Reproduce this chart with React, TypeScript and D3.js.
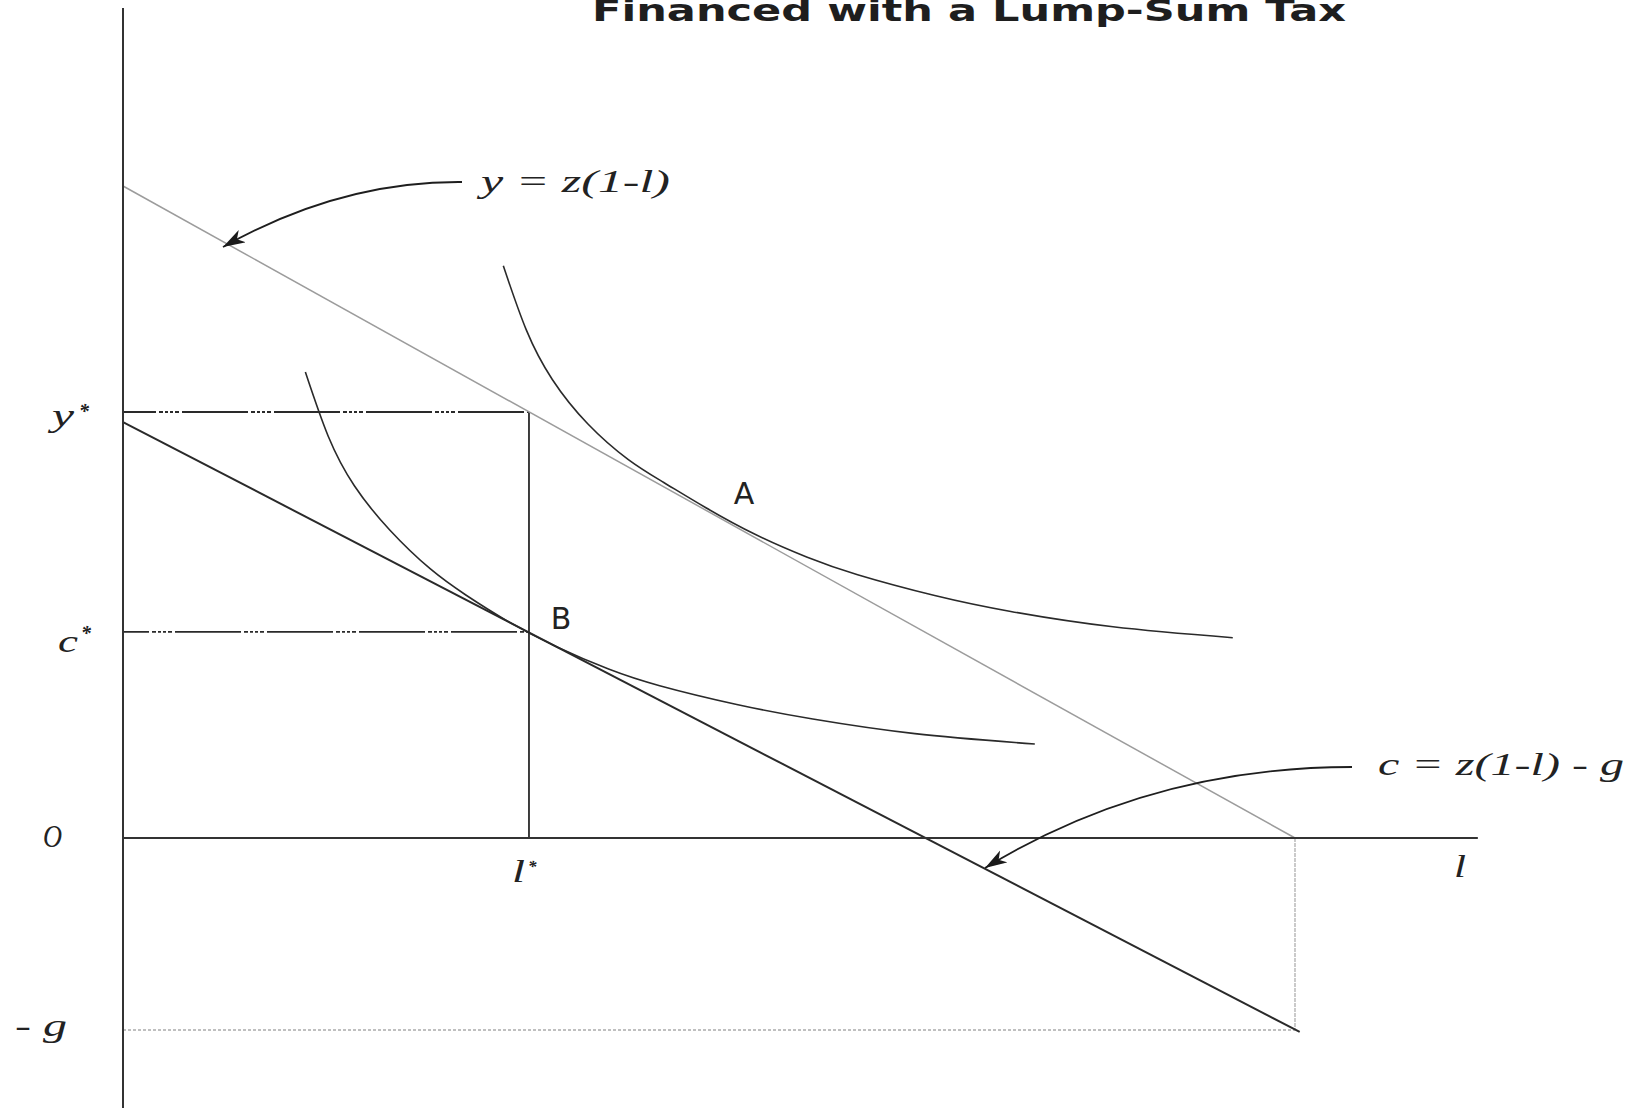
import React from "react";
import * as d3 from "d3";

const W = 1634;
const H = 1108;

// Diagram coordinates: leisure l on the horizontal axis, goods on the vertical axis.
const leisureDomain: [number, number] = [0, 1];
const goodsDomain: [number, number] = [0, 1];

// y = z(1-l)
const productionFrontier: [number, number][] = [
  [0, 1],
  [1, 0],
];
// c = z(1-l) - g
const budgetLine: [number, number][] = [
  [0, 0.638],
  [1.004, -0.2975],
];

// Higher indifference curve, tangent to the frontier at A
const indifferenceA: [number, number][] = [
  [0.3245, 0.8777],
  [0.3441, 0.7793],
  [0.3663, 0.7033],
  [0.3965, 0.6354],
  [0.4312, 0.5804],
  [0.4614, 0.5453],
  [0.497, 0.5069],
  [0.5397, 0.4654],
  [0.5833, 0.431],
  [0.6268, 0.4038],
  [0.6926, 0.3719],
  [0.7575, 0.3474],
  [0.8447, 0.3239],
  [0.9469, 0.3071],
];

// Lower indifference curve, tangent to the budget line at B
const indifferenceB: [number, number][] = [
  [0.1556, 0.7147],
  [0.1751, 0.6162],
  [0.1974, 0.5403],
  [0.2276, 0.4724],
  [0.2623, 0.4126],
  [0.2925, 0.3727],
  [0.3281, 0.3327],
  [0.3708, 0.2927],
  [0.4143, 0.2592],
  [0.4579, 0.2336],
  [0.5237, 0.2048],
  [0.5886, 0.1825],
  [0.6757, 0.1601],
  [0.778, 0.1441],
];

const lStar = 0.3464;
const yStar = 0.6534;
const cStar = 0.316;
const gTax = 0.2945;
const leisureMax = 1;
const axisTop = 1.273;
const axisBottom = -0.414;
const axisRight = 1.156;

const titleText = "Financed with a Lump-Sum Tax";
const frontierLabel = "y = z(1-l)";
const budgetLabel = "c = z(1-l) - g";

export default function App() {
  const x = d3.scaleLinear().domain(leisureDomain).range([123, 1295]);
  const y = d3.scaleLinear().domain(goodsDomain).range([838, 186]);

  const straight = d3
    .line<[number, number]>()
    .x((d) => x(d[0]))
    .y((d) => y(d[1]));
  const smooth = d3
    .line<[number, number]>()
    .x((d) => x(d[0]))
    .y((d) => y(d[1]))
    .curve(d3.curveNatural);

  // curved pointers from the equation labels to their lines
  const arrow1 = d3.path();
  arrow1.moveTo(462, 182);
  arrow1.quadraticCurveTo(340, 181, 223, 247);
  const arrow2 = d3.path();
  arrow2.moveTo(1352, 767);
  arrow2.quadraticCurveTo(1150, 767, 985, 868);

  const serif = "'Liberation Serif', 'DejaVu Serif', serif";
  const sans = "'DejaVu Sans', 'Liberation Sans', sans-serif";
  const dark = "#2a2a2a";
  const guideDash = "66,3,4,2,3,2,3,2,4,3";

  const italic = {
    fontFamily: serif,
    fontStyle: "italic" as const,
    fill: "#222",
  };

  return (
    <svg
      width={W}
      height={H}
      viewBox={`0 0 ${W} ${H}`}
      style={{ position: "absolute", left: 0, top: 0, background: "#fff" }}
    >
      <defs>
        <marker
          id="head"
          markerUnits="userSpaceOnUse"
          markerWidth={26}
          markerHeight={16}
          refX={22}
          refY={7}
          orient="auto"
        >
          <path d="M0,0 L22,7 L0,14 L6,7 Z" fill="#1a1a1a" />
        </marker>
      </defs>

      <text
        x={592}
        y={21}
        fontFamily={sans}
        fontWeight="bold"
        fontSize={30}
        fill="#1e1e1e"
        textLength={754}
        lengthAdjust="spacingAndGlyphs"
      >
        {titleText}
      </text>

      {/* -g reference and right boundary at l = 1 */}
      <line
        x1={x(0)}
        x2={x(leisureMax)}
        y1={y(-gTax)}
        y2={y(-gTax)}
        stroke="#aaa"
        strokeWidth={1.6}
        strokeDasharray="3,2"
      />
      <line
        x1={x(leisureMax)}
        x2={x(leisureMax)}
        y1={y(0)}
        y2={y(-gTax)}
        stroke="#b5b5b5"
        strokeWidth={1.4}
        strokeDasharray="4,1"
      />

      {/* y*, c* guides and l* */}
      <line
        x1={x(0)}
        x2={x(lStar)}
        y1={y(yStar)}
        y2={y(yStar)}
        stroke={dark}
        strokeWidth={1.8}
        strokeDasharray={guideDash}
        strokeDashoffset={33}
      />
      <line
        x1={x(0)}
        x2={x(lStar)}
        y1={y(cStar)}
        y2={y(cStar)}
        stroke={dark}
        strokeWidth={1.8}
        strokeDasharray={guideDash}
        strokeDashoffset={40}
      />
      <line
        x1={x(lStar)}
        x2={x(lStar)}
        y1={y(yStar)}
        y2={y(0)}
        stroke={dark}
        strokeWidth={1.8}
      />

      {/* production frontier and budget line */}
      <path d={straight(productionFrontier) ?? ""} fill="none" stroke="#9c9c9c" strokeWidth={1.5} />
      <path d={straight(budgetLine) ?? ""} fill="none" stroke={dark} strokeWidth={2} />

      {/* indifference curves */}
      <path d={smooth(indifferenceA) ?? ""} fill="none" stroke={dark} strokeWidth={1.6} />
      <path d={smooth(indifferenceB) ?? ""} fill="none" stroke={dark} strokeWidth={1.6} />

      {/* axes */}
      <line x1={x(0)} x2={x(0)} y1={y(axisTop)} y2={y(axisBottom)} stroke="#333" strokeWidth={2} />
      <line x1={x(0)} x2={x(axisRight)} y1={y(0)} y2={y(0)} stroke="#333" strokeWidth={2} />

      {/* pointers */}
      <path d={arrow1.toString()} fill="none" stroke="#1e1e1e" strokeWidth={1.8} markerEnd="url(#head)" />
      <path d={arrow2.toString()} fill="none" stroke="#1e1e1e" strokeWidth={1.8} markerEnd="url(#head)" />

      {/* equation labels */}
      <text
        x={481}
        y={192}
        {...italic}
        fontSize={31}
        textLength={189}
        lengthAdjust="spacingAndGlyphs"
      >
        {frontierLabel}
      </text>
      <text
        x={1378}
        y={775}
        {...italic}
        fontSize={31}
        textLength={246}
        lengthAdjust="spacingAndGlyphs"
      >
        {budgetLabel}
      </text>

      {/* axis labels */}
      <text x={52} y={426} {...italic} fontSize={31} textLength={22} lengthAdjust="spacingAndGlyphs">
        y
      </text>
      <text x={79} y={418} {...italic} fontSize={20} fontWeight="bold">
        *
      </text>
      <text x={58} y={652} {...italic} fontSize={31} textLength={20} lengthAdjust="spacingAndGlyphs">
        c
      </text>
      <text x={81} y={640} {...italic} fontSize={20} fontWeight="bold">
        *
      </text>
      <text x={43} y={847} {...italic} fontSize={32} textLength={19} lengthAdjust="spacingAndGlyphs">
        O
      </text>
      <text x={15} y={1036} {...italic} fontSize={31} textLength={52} lengthAdjust="spacingAndGlyphs">
        - g
      </text>
      <text x={512} y={882} {...italic} fontSize={31} textLength={13} lengthAdjust="spacingAndGlyphs">
        l
      </text>
      <text x={528} y={872} {...italic} fontSize={17} fontWeight="bold">
        *
      </text>
      <text x={1454} y={877} {...italic} fontSize={31} textLength={12} lengthAdjust="spacingAndGlyphs">
        l
      </text>

      {/* tangency points */}
      <g fontFamily={sans} fill="#222" fontSize={30}>
        <text x={744} y={504} textAnchor="middle">
          A
        </text>
        <text x={561} y={629} textAnchor="middle">
          B
        </text>
      </g>
    </svg>
  );
}
